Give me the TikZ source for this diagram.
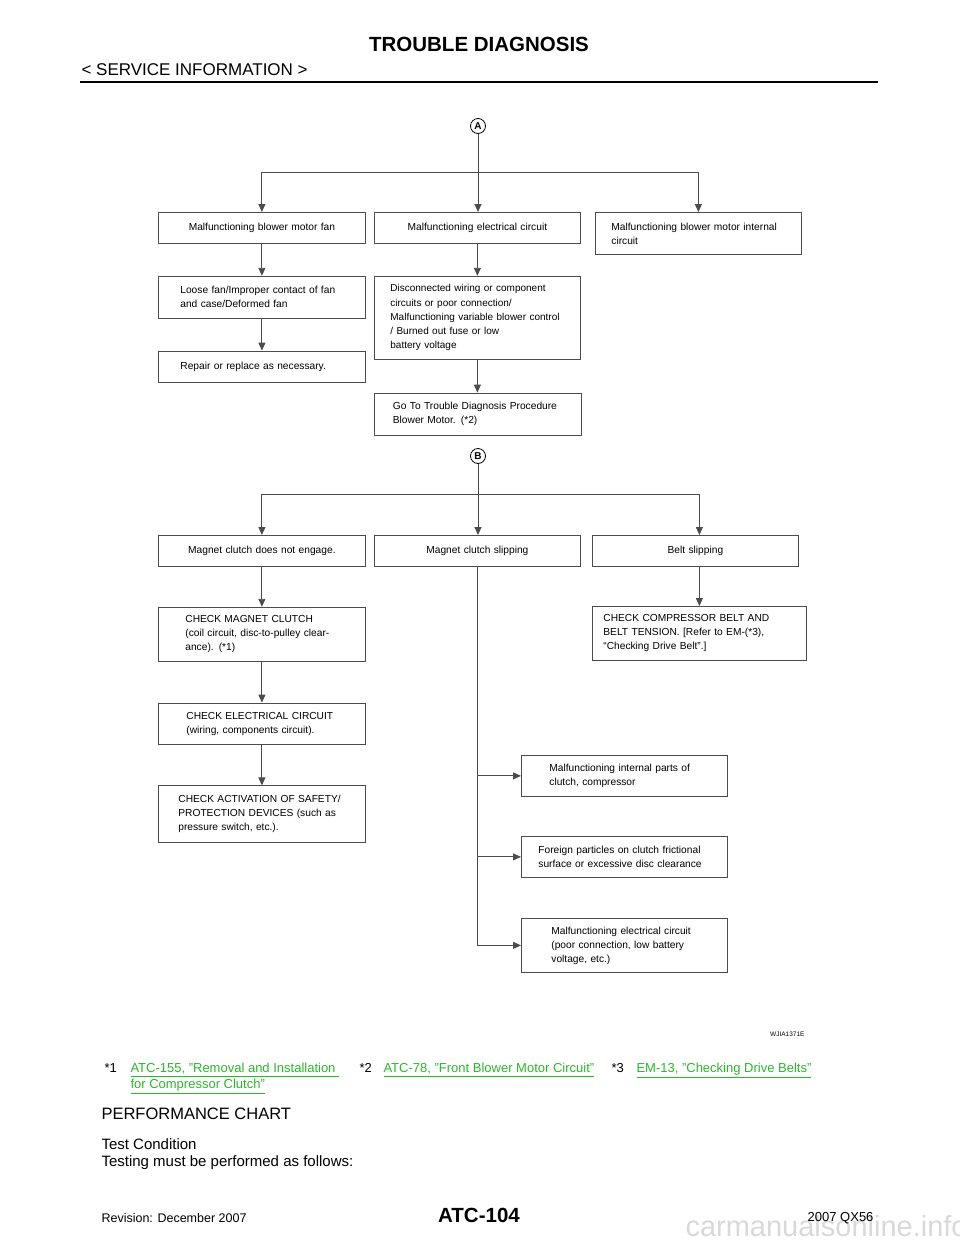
\documentclass[tikz,border=0pt]{standalone}
\usepackage{fontspec}
\setmainfont{Liberation Sans}
\usetikzlibrary{positioning, arrows.meta}
\usepackage{xcolor}
\definecolor{linegray}{gray}{0.3}
\definecolor{linkgreen}{RGB}{40,185,40}

\tikzset{
    box/.style={draw=linegray, line width=0.8pt, anchor=north west, inner ysep=0pt,
        inner xsep=0pt, minimum height=31pt, text width=207pt, align=center,
        font=\fontsize{10.2}{14}\selectfont},
    lbox/.style={box, align=left},
    arr/.style={draw=linegray, line width=0.9pt, -{Triangle[length=8pt, width=7pt]}},
    wire/.style={draw=linegray, line width=0.9pt},
    mark circle/.style={circle, draw, line width=0.8pt, inner sep=0pt, minimum size=15pt,
        font=\bfseries\fontsize{10}{10}\selectfont},
}

\begin{document}
\begin{tikzpicture}[x=1pt, y=-1pt]
    \useasboundingbox (0,0) rectangle (960,1242);
    % header
    \node[font=\bfseries\fontsize{20.5}{20.5}\selectfont] (title) at (479,44) {TROUBLE DIAGNOSIS};
    \node[anchor=west, font=\fontsize{17}{17}\selectfont] (section) at (78,70) {< SERVICE INFORMATION >};
    \draw[line width=2.6pt] (80,82) -- (878,82);

    % part A
    \node[mark circle] (A) at (478,126) {A};
    \node[box] (fan) at (158,212) {Malfunctioning blower motor fan};
    \node[box, text width=206pt] (elec) at (374,212) {Malfunctioning electrical circuit};
    \node[lbox, inner xsep=16pt, text width=174pt, minimum height=42pt] (intl) at (595,212)
        {Malfunctioning blower motor internal\\circuit};
    \node[lbox, inner xsep=22pt, text width=163pt, minimum height=42pt, below=32pt of fan] (loose)
        {Loose fan/Improper contact of fan\\and case/Deformed fan};
    \node[lbox, inner xsep=22pt, text width=163pt, below=32pt of loose] (repair)
        {Repair or replace as necessary.};
    \node[lbox, inner xsep=16pt, text width=174pt, minimum height=83pt, below=32pt of elec] (wiring)
        {\fontsize{10}{14.2}\selectfont Disconnected wiring or component\\circuits or poor connection/\\
         Malfunctioning variable blower control\\/ Burned out fuse or low\\battery voltage};
    \node[lbox, inner xsep=19pt, text width=169pt, minimum height=42pt, below=33pt of wiring] (goto)
        {\mbox{Go To Trouble Diagnosis Procedure}\\Blower Motor. (*2)};

    \coordinate[above=40pt of fan.north] (aL);
    \coordinate[above=40pt of intl.north] (aR);
    \draw[wire] (aL) -- (aR);
    \draw[arr] (aL) -- (fan.north);
    \draw[arr] (aR) -- (intl.north);
    \draw[arr] (A.south) -- (A.south |- elec.north);
    \draw[arr] (fan) -- (loose);
    \draw[arr] (loose) -- (repair);
    \draw[arr] (elec) -- (wiring);
    \draw[arr] (wiring) -- (goto);

    % part B
    \node[mark circle] (B) at (478,456) {B};
    \node[box] (noeng) at (158,535) {Magnet clutch does not engage.};
    \node[box, text width=206pt] (slip) at (374,535) {Magnet clutch slipping};
    \node[box, text width=206pt] (belt) at (592,535) {Belt slipping};
    \node[lbox, inner xsep=27pt, text width=153pt, minimum height=54pt, below=40pt of noeng] (chkmag)
        {CHECK MAGNET CLUTCH\\(coil circuit, disc-to-pulley clear-\\ance). (*1)};
    \node[lbox, inner xsep=11pt, text width=192pt, minimum height=54pt] (chkbelt) at (592,606)
        {CHECK COMPRESSOR BELT AND\\BELT TENSION. [Refer to EM-(*3),\\``Checking Drive Belt''.]};
    \node[lbox, inner xsep=28pt, text width=151pt, minimum height=41pt, below=41pt of chkmag] (chkelec)
        {CHECK ELECTRICAL CIRCUIT\\(wiring, components circuit).};
    \node[lbox, inner xsep=20pt, text width=167pt, minimum height=57pt, below=41pt of chkelec] (chkact)
        {CHECK ACTIVATION OF SAFETY/\\PROTECTION DEVICES (such as\\pressure switch, etc.).};
    \node[lbox, inner xsep=28pt, text width=150pt, minimum height=41pt] (intparts) at (521,755)
        {Malfunctioning internal parts of\\clutch, compressor};
    \node[lbox, inner xsep=17pt, text width=172pt, minimum height=41pt] (foreign) at (521,836)
        {Foreign particles on clutch frictional\\surface or excessive disc clearance};
    \node[lbox, inner xsep=30pt, text width=146pt, minimum height=54pt] (poorcon) at (521,918)
        {Malfunctioning electrical circuit\\(poor connection, low battery\\voltage, etc.)};

    \coordinate[above=41pt of noeng.north] (bL);
    \coordinate[above=41pt of belt.north, xshift=4pt] (bR);
    \draw[wire] (bL) -- (bR);
    \draw[arr] (bL) -- (noeng.north);
    \draw[arr] (bR) -- (bR |- belt.north);
    \draw[arr] (B.south) -- (B.south |- slip.north);
    \draw[arr] (noeng) -- (chkmag);
    \draw[arr] (chkmag) -- (chkelec);
    \draw[arr] (chkelec) -- (chkact);
    \draw[arr] (bR |- belt.south) -- (bR |- chkbelt.north);
    \draw[arr] (slip.south) |- (poorcon.west);
    \draw[arr] (slip.south |- intparts.west) -- (intparts.west);
    \draw[arr] (slip.south |- foreign.west) -- (foreign.west);

    \node[anchor=east, font=\fontsize{6.5}{6.5}\selectfont] (code) at (808,1034) {WJIA1371E};

    % footnotes
    \node[anchor=north west, font=\fontsize{13}{16}\selectfont] (n1) at (101,1060) {*1};
    \node[anchor=north west, align=left, text=linkgreen, font=\fontsize{13}{16}\selectfont] (l1) at (127,1060)
        {\underline{ATC-155, "Removal and Installation }\\\underline{for Compressor Clutch"}};
    \node[anchor=north west, font=\fontsize{13}{16}\selectfont] (n2) at (356,1060) {*2};
    \node[anchor=north west, text=linkgreen, font=\fontsize{13}{16}\selectfont] (l2) at (380,1060)
        {\underline{ATC-78, "Front Blower Motor Circuit"}};
    \node[anchor=north west, font=\fontsize{13}{16}\selectfont] (n3) at (608,1060) {*3};
    \node[anchor=north west, text=linkgreen, font=\fontsize{13}{16}\selectfont] (l3) at (633,1060)
        {\underline{EM-13, "Checking Drive Belts"}};

    % text below
    \node[anchor=west, font=\fontsize{16.5}{16.5}\selectfont] (perf) at (98,1114) {PERFORMANCE CHART};
    \node[anchor=west, font=\fontsize{15}{15}\selectfont] (cond) at (98,1144) {Test Condition};
    \node[anchor=west, font=\fontsize{15}{15}\selectfont] (how) at (98,1163) {Testing must be performed as follows:};

    % footer
    \node[anchor=base west, text=gray!30, font=\fontsize{29}{29}\selectfont] (wm) at (682,1236) {carmanualsonline.info};
    \node[anchor=west, font=\fontsize{12.5}{12.5}\selectfont] (rev) at (98,1218) {Revision: December 2007};
    \node[font=\bfseries\fontsize{20.5}{20.5}\selectfont] (page) at (479,1215) {ATC-104};
    \node[anchor=east, font=\fontsize{13}{13}\selectfont] (model) at (877,1218) {2007 QX56};
\end{tikzpicture}
\end{document}
